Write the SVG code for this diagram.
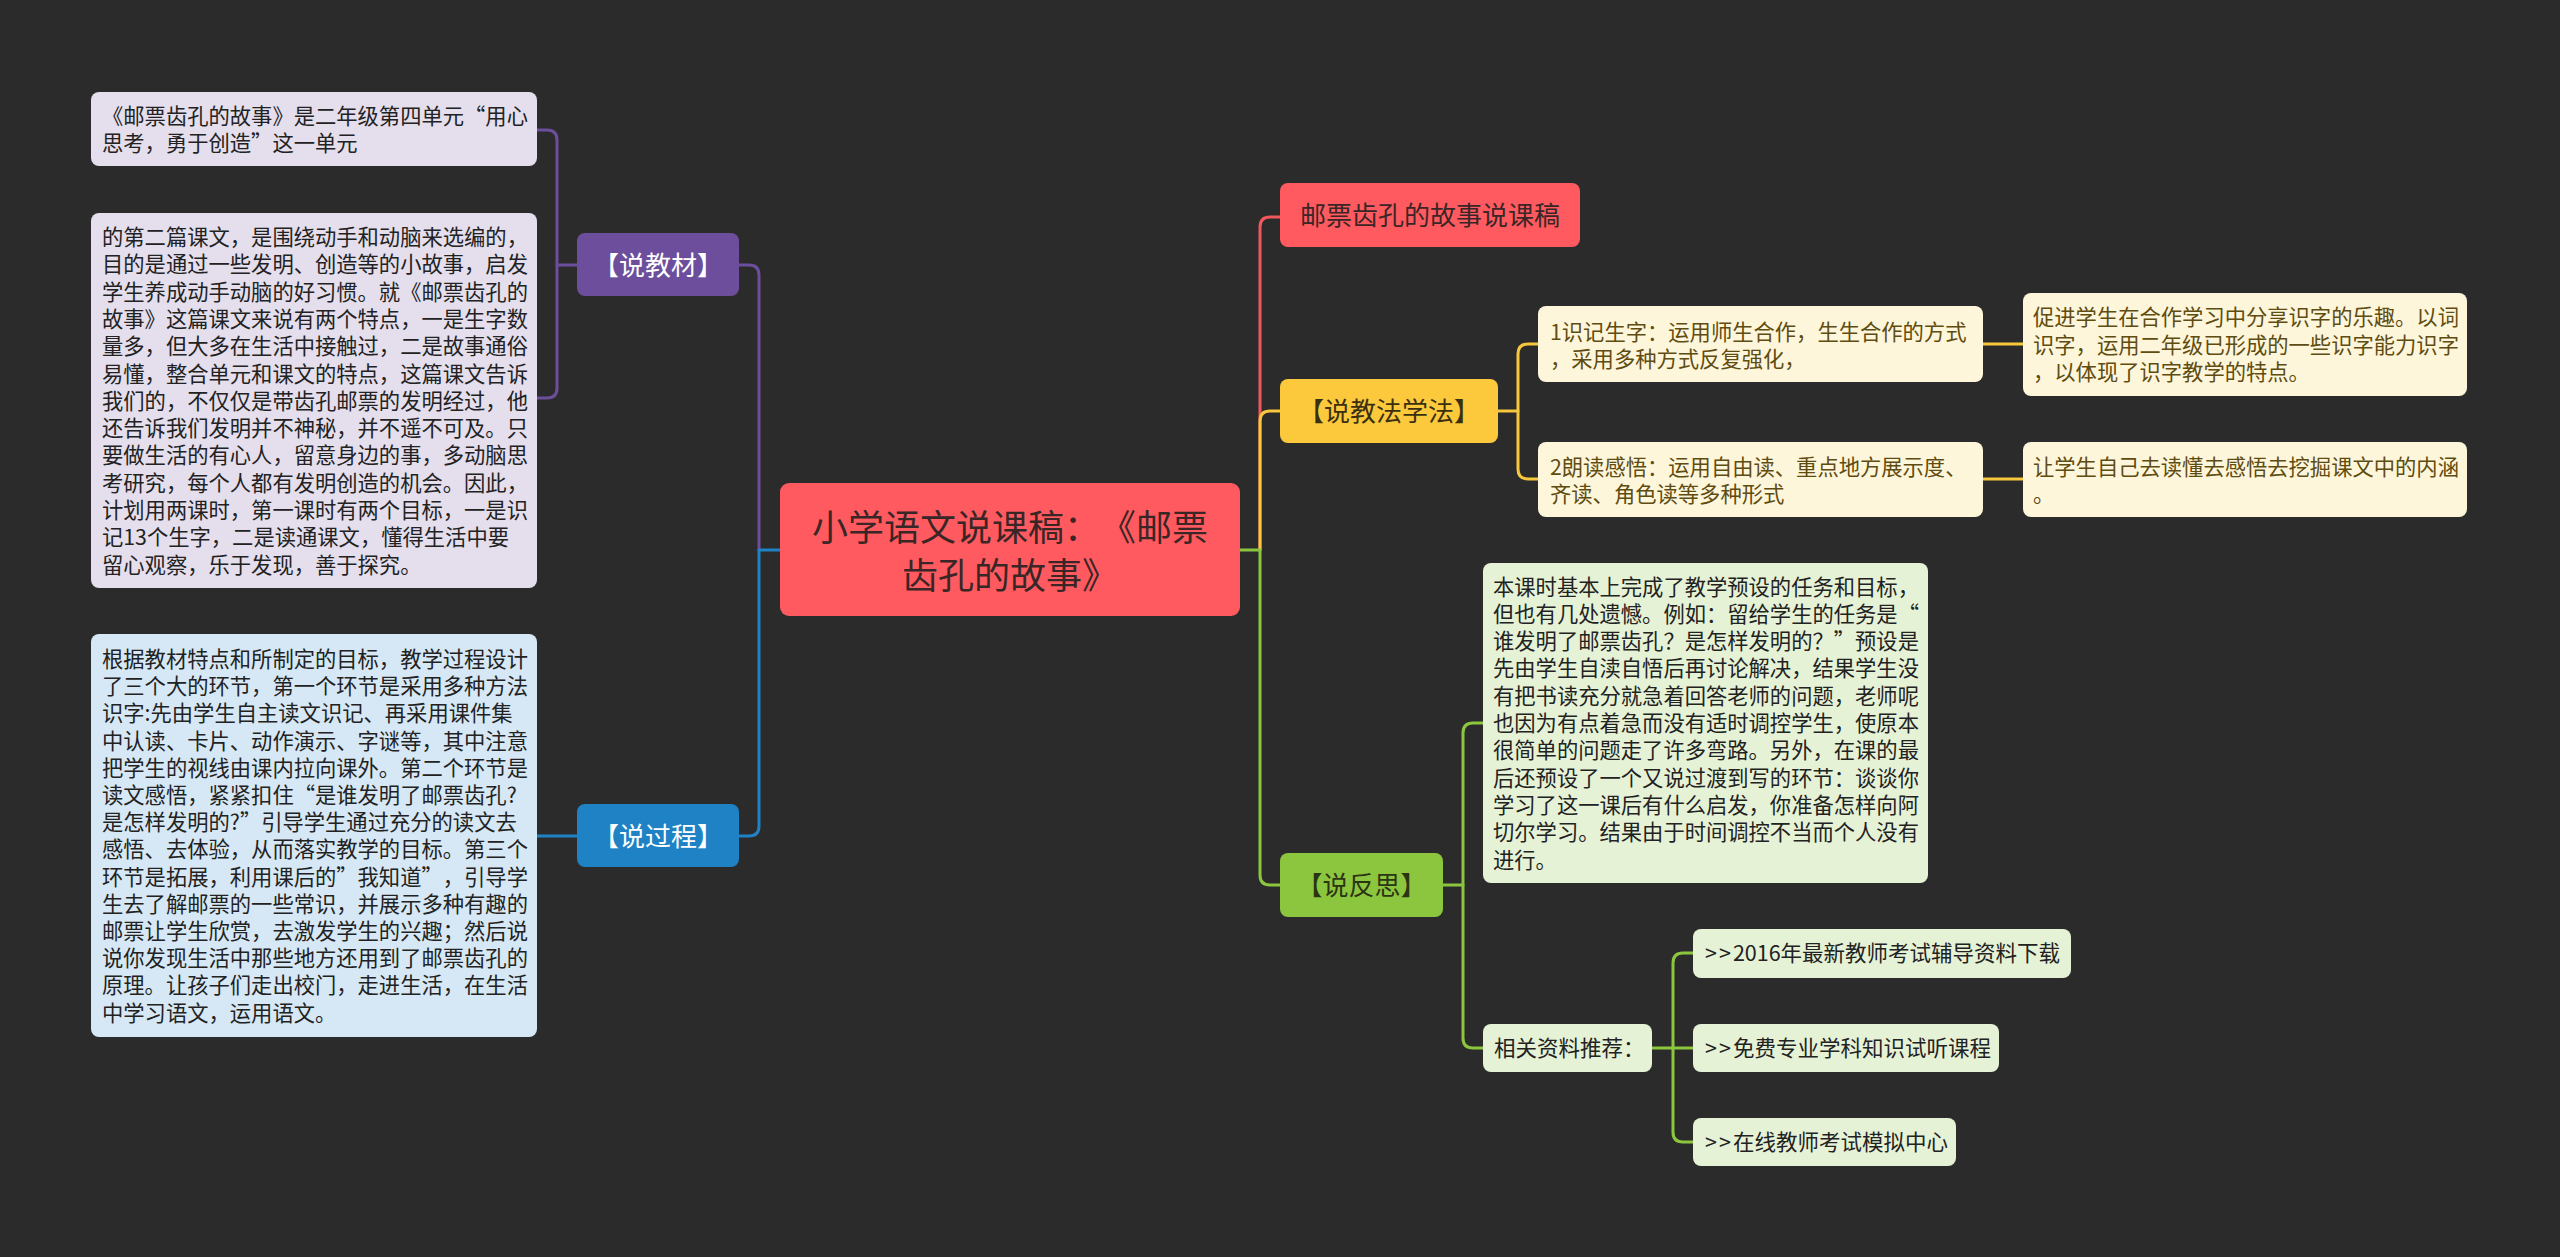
<svg xmlns="http://www.w3.org/2000/svg" width="2560" height="1257" viewBox="0 0 2560 1257">
<style>
text{font-family:"Microsoft YaHei","Noto Sans CJK SC","Noto Sans",sans-serif;text-spacing-trim:space-all;}
.ln{fill:none;stroke-width:3;stroke-linecap:round;stroke-linejoin:round;}
.pu{stroke:#6c4e9c;}
.bl{stroke:#1e82c4;}
.rd{stroke:#f0585d;}
.ye{stroke:#f7c73e;}
.gr{stroke:#8cc63f;}
.t{font-size:21.3px;fill:#222;}
.ty{font-size:21.3px;fill:#5e4c10;}
.tb{font-size:26px;text-anchor:middle;}
.tl{font-size:21.5px;fill:#222;}
.gt{letter-spacing:2px;}
</style>
<rect x="0" y="0" width="2560" height="1257" fill="#2b2b2b"/>

<g id="connectors">
<path class="ln pu" d="M739,265 H749 Q759,265 759,275 V550"/>
<path class="ln bl" d="M780,550 H759 V826 Q759,836 749,836 H739"/>
<path class="ln pu" d="M577,265 H557"/>
<path class="ln pu" d="M537,130 H547 Q557,130 557,140 V388 Q557,398 547,398 H537"/>
<path class="ln bl" d="M577,836 H537"/>
<path class="ln rd" d="M1260,550 V227 Q1260,217 1270,217 H1280"/>
<path class="ln ye" d="M1260,550 V421 Q1260,411 1270,411 H1280"/>
<path class="ln gr" d="M1240,550 H1260 V875 Q1260,885 1270,885 H1280"/>
<path class="ln ye" d="M1498,411 H1518"/>
<path class="ln ye" d="M1538,344 H1528 Q1518,344 1518,354 V469 Q1518,479 1528,479 H1538"/>
<path class="ln ye" d="M1983,344 H2023"/>
<path class="ln ye" d="M1983,479 H2023"/>
<path class="ln gr" d="M1443,885 H1463"/>
<path class="ln gr" d="M1483,723 H1473 Q1463,723 1463,733 V1038 Q1463,1048 1473,1048 H1483"/>
<path class="ln gr" d="M1652,1048 H1693"/>
<path class="ln gr" d="M1693,953 H1683 Q1673,953 1673,963 V1132 Q1673,1142 1683,1142 H1693"/>
</g>

<g id="root">
<rect x="780" y="483" width="460" height="133" rx="9" fill="#ff5a5f"/>
<text x="1010" y="541" font-size="36" text-anchor="middle" fill="#3a2626">小学语文说课稿：《邮票</text>
<text x="1010" y="589" font-size="36" text-anchor="middle" fill="#3a2626">齿孔的故事》</text>
</g>

<g id="n-jiaocai">
<rect x="577" y="233" width="162" height="63" rx="8" fill="#6c4e9c"/>
<text class="tb" x="658" y="275" fill="#ffffff">【说教材】</text>
</g>

<g id="n-jiaocai-1">
<rect x="91" y="92" width="446" height="74" rx="8" fill="#e4deed"/>
<text class="t" x="102" y="124">《邮票齿孔的故事》是二年级第四单元“用心</text>
<text class="t" x="102" y="151">思考，勇于创造”这一单元</text>
</g>

<g id="n-jiaocai-2">
<rect x="91" y="213" width="446" height="375" rx="8" fill="#e4deed"/>
<text class="t" x="102" y="245">的第二篇课文，是围绕动手和动脑来选编的，</text>
<text class="t" x="102" y="272.3">目的是通过一些发明、创造等的小故事，启发</text>
<text class="t" x="102" y="299.6">学生养成动手动脑的好习惯。就《邮票齿孔的</text>
<text class="t" x="102" y="326.9">故事》这篇课文来说有两个特点，一是生字数</text>
<text class="t" x="102" y="354.2">量多，但大多在生活中接触过，二是故事通俗</text>
<text class="t" x="102" y="381.5">易懂，整合单元和课文的特点，这篇课文告诉</text>
<text class="t" x="102" y="408.8">我们的，不仅仅是带齿孔邮票的发明经过，他</text>
<text class="t" x="102" y="436.1">还告诉我们发明并不神秘，并不遥不可及。只</text>
<text class="t" x="102" y="463.4">要做生活的有心人，留意身边的事，多动脑思</text>
<text class="t" x="102" y="490.7">考研究，每个人都有发明创造的机会。因此，</text>
<text class="t" x="102" y="518">计划用两课时，第一课时有两个目标，一是识</text>
<text class="t" x="102" y="545.3">记13个生字，二是读通课文，懂得生活中要</text>
<text class="t" x="102" y="572.6">留心观察，乐于发现，善于探究。</text>
</g>

<g id="n-guocheng">
<rect x="577" y="804" width="162" height="63" rx="8" fill="#1e82c4"/>
<text class="tb" x="658" y="846" fill="#ffffff">【说过程】</text>
</g>

<g id="n-guocheng-1">
<rect x="91" y="634" width="446" height="403" rx="8" fill="#d6e8f5"/>
<text class="t" x="102" y="667">根据教材特点和所制定的目标，教学过程设计</text>
<text class="t" x="102" y="694.2">了三个大的环节，第一个环节是采用多种方法</text>
<text class="t" x="102" y="721.4">识字:先由学生自主读文识记、再采用课件集</text>
<text class="t" x="102" y="748.6">中认读、卡片、动作演示、字谜等，其中注意</text>
<text class="t" x="102" y="775.8">把学生的视线由课内拉向课外。第二个环节是</text>
<text class="t" x="102" y="803">读文感悟，紧紧扣住“是谁发明了邮票齿孔?</text>
<text class="t" x="102" y="830.2">是怎样发明的?”引导学生通过充分的读文去</text>
<text class="t" x="102" y="857.4">感悟、去体验，从而落实教学的目标。第三个</text>
<text class="t" x="102" y="884.6">环节是拓展，利用课后的”我知道”，引导学</text>
<text class="t" x="102" y="911.8">生去了解邮票的一些常识，并展示多种有趣的</text>
<text class="t" x="102" y="939">邮票让学生欣赏，去激发学生的兴趣；然后说</text>
<text class="t" x="102" y="966.2">说你发现生活中那些地方还用到了邮票齿孔的</text>
<text class="t" x="102" y="993.4">原理。让孩子们走出校门，走进生活，在生活</text>
<text class="t" x="102" y="1020.6">中学习语文，运用语文。</text>
</g>

<g id="n-title">
<rect x="1280" y="183" width="300" height="64" rx="8" fill="#ff5a5f"/>
<text class="tb" x="1430" y="225" fill="#3a2626">邮票齿孔的故事说课稿</text>
</g>

<g id="n-jiaofa">
<rect x="1280" y="379" width="218" height="64" rx="8" fill="#fcc83c"/>
<text class="tb" x="1389" y="421" fill="#3a3010">【说教法学法】</text>
</g>

<g id="n-jiaofa-1">
<rect x="1538" y="306" width="445" height="76" rx="8" fill="#fef6db"/>
<text class="ty" x="1550" y="340">1识记生字：运用师生合作，生生合作的方式</text>
<text class="ty" x="1550" y="367">，采用多种方式反复强化，</text>
</g>

<g id="n-jiaofa-1-1">
<rect x="2023" y="293" width="444" height="103" rx="8" fill="#fef6db"/>
<text class="ty" x="2033" y="325">促进学生在合作学习中分享识字的乐趣。以词</text>
<text class="ty" x="2033" y="352.5">识字，运用二年级已形成的一些识字能力识字</text>
<text class="ty" x="2033" y="380">，以体现了识字教学的特点。</text>
</g>

<g id="n-jiaofa-2">
<rect x="1538" y="442" width="445" height="75" rx="8" fill="#fef6db"/>
<text class="ty" x="1550" y="475">2朗读感悟：运用自由读、重点地方展示度、</text>
<text class="ty" x="1550" y="502">齐读、角色读等多种形式</text>
</g>

<g id="n-jiaofa-2-1">
<rect x="2023" y="442" width="444" height="75" rx="8" fill="#fef6db"/>
<text class="ty" x="2033" y="475">让学生自己去读懂去感悟去挖掘课文中的内涵</text>
<text class="ty" x="2033" y="502">。</text>
</g>

<g id="n-fansi">
<rect x="1280" y="853" width="163" height="64" rx="8" fill="#8cc63f"/>
<text class="tb" x="1361.5" y="895" fill="#2a3512">【说反思】</text>
</g>

<g id="n-fansi-1">
<rect x="1483" y="563" width="445" height="320" rx="8" fill="#e6f2d6"/>
<text class="t" x="1493" y="594.5">本课时基本上完成了教学预设的任务和目标，</text>
<text class="t" x="1493" y="621.8">但也有几处遗憾。例如：留给学生的任务是“</text>
<text class="t" x="1493" y="649.1">谁发明了邮票齿孔？是怎样发明的？”预设是</text>
<text class="t" x="1493" y="676.4">先由学生自渎自悟后再讨论解决，结果学生没</text>
<text class="t" x="1493" y="703.7">有把书读充分就急着回答老师的问题，老师呢</text>
<text class="t" x="1493" y="731">也因为有点着急而没有适时调控学生，使原本</text>
<text class="t" x="1493" y="758.3">很简单的问题走了许多弯路。另外，在课的最</text>
<text class="t" x="1493" y="785.6">后还预设了一个又说过渡到写的环节：谈谈你</text>
<text class="t" x="1493" y="812.9">学习了这一课后有什么启发，你准备怎样向阿</text>
<text class="t" x="1493" y="840.2">切尔学习。结果由于时间调控不当而个人没有</text>
<text class="t" x="1493" y="867.5">进行。</text>
</g>

<g id="n-ziliao">
<rect x="1483" y="1024" width="169" height="48" rx="8" fill="#e6f2d6"/>
<text class="tl" x="1494" y="1056">相关资料推荐：</text>
</g>

<g id="n-ziliao-1">
<rect x="1693" y="929" width="378" height="49" rx="8" fill="#e6f2d6"/>
<text class="tl" x="1705" y="961"><tspan class="gt">&gt;&gt;</tspan>2016年最新教师考试辅导资料下载</text>
</g>

<g id="n-ziliao-2">
<rect x="1693" y="1024" width="306" height="48" rx="8" fill="#e6f2d6"/>
<text class="tl" x="1705" y="1056"><tspan class="gt">&gt;&gt;</tspan>免费专业学科知识试听课程</text>
</g>

<g id="n-ziliao-3">
<rect x="1693" y="1118" width="263" height="48" rx="8" fill="#e6f2d6"/>
<text class="tl" x="1705" y="1150"><tspan class="gt">&gt;&gt;</tspan>在线教师考试模拟中心</text>
</g>
</svg>
